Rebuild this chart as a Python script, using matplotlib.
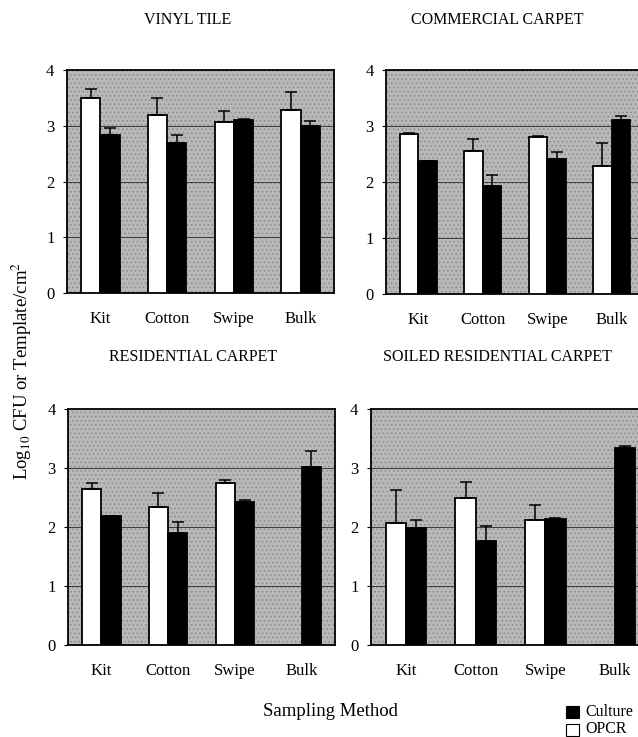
import numpy as np
import matplotlib
matplotlib.use('Agg')
import matplotlib.pyplot as plt

plt.rcParams['font.family'] = ['Liberation Serif', 'DejaVu Serif']
plt.rcParams['mathtext.fontset'] = 'stix'
plt.rcParams['hatch.linewidth'] = 0.6

methods = ['Kit', 'Cotton', 'Swipe', 'Bulk']
titles = ['VINYL TILE', 'COMMERCIAL CARPET', 'RESIDENTIAL CARPET', 'SOILED RESIDENTIAL CARPET']

# OPCR (white) and culture (black) means, with the upper error bar length
opcr = [
    [3.50, 3.20, 3.07, 3.28],
    [2.85, 2.56, 2.81, 2.28],
    [2.65, 2.34, 2.75, 0.0],
    [2.06, 2.50, 2.12, 0.0],
]
opcr_err = [
    [0.16, 0.29, 0.19, 0.32],
    [0.03, 0.21, 0.02, 0.42],
    [0.10, 0.24, 0.05, 0.0],
    [0.56, 0.27, 0.26, 0.0],
]
culture = [
    [2.84, 2.69, 3.10, 2.99],
    [2.37, 1.92, 2.41, 3.10],
    [2.18, 1.89, 2.42, 3.02],
    [1.98, 1.77, 2.14, 3.34],
]
culture_err = [
    [0.12, 0.14, 0.03, 0.10],
    [0.01, 0.20, 0.12, 0.08],
    [0.01, 0.19, 0.03, 0.26],
    [0.14, 0.24, 0.02, 0.03],
]

W, H = 638, 737
fig = plt.figure(figsize=(W / 100, H / 100), dpi=100)


def px_axes(l, t, r, b):
    return fig.add_axes([l / W, 1 - b / H, (r - l) / W, (b - t) / H])


# panel boxes in pixels (right panels run past the image edge)
boxes = [(67, 70, 334, 293), (386, 70, 644, 294), (68, 409, 335, 645), (371, 409, 650, 645)]
title_pos = [(188, 20), (497, 20), (193, 357), (497, 357)]

x = np.arange(len(methods)) + 0.5
bw = 0.29

for i, box in enumerate(boxes):
    ax = px_axes(*box)
    ax.set_facecolor('#b8b8b8')
    ax.set_xlim(0, 4)
    ax.set_ylim(0, 4)
    # stippled background
    ax.add_patch(plt.Rectangle((0, 0), 1, 1, transform=ax.transAxes, facecolor='none',
                               edgecolor='#8a8a8a', hatch='....', lw=0, zorder=0.5))
    for yv in [1, 2, 3]:
        ax.axhline(yv, color='#3c3c3c', lw=0.7, zorder=1)

    op = np.array(opcr[i])
    cu = np.array(culture[i])
    ax.bar(x - bw / 2, op, bw, color='white', edgecolor='black', lw=1.3, zorder=3)
    ax.bar(x + bw / 2, cu, bw, color='black', edgecolor='black', lw=1.3, zorder=3)

    for j in range(len(methods)):
        if op[j] > 0 and opcr_err[i][j] > 0:
            ax.errorbar(x[j] - bw / 2, op[j], yerr=[[0], [opcr_err[i][j]]], fmt='none',
                        ecolor='black', elinewidth=1.1, capsize=4, capthick=1.1, zorder=4)
        if cu[j] > 0 and culture_err[i][j] > 0:
            ax.errorbar(x[j] + bw / 2, cu[j], yerr=[[0], [culture_err[i][j]]], fmt='none',
                        ecolor='black', elinewidth=1.1, capsize=4, capthick=1.1, zorder=4)

    ax.set_yticks([0, 1, 2, 3, 4])
    ax.set_xticks(x)
    ax.set_xticklabels(methods, fontsize=12)
    ax.tick_params(axis='x', length=0, pad=13)
    ax.tick_params(axis='y', length=3, width=0.8, pad=6, labelsize=12)
    for s in ax.spines.values():
        s.set_linewidth(1.3)

    tx, ty = title_pos[i]
    fig.text(tx / W, 1 - ty / H, titles[i], ha='center', va='center', fontsize=11.5)

fig.text(22 / W, 1 - 371 / H, r'Log$_{10}$ CFU or Template/cm$^{2}$', rotation=90,
         ha='center', va='center', fontsize=13.5)
fig.text(330 / W, 1 - 712 / H, 'Sampling Method', ha='center', va='center', fontsize=13.5)

# legend
fig.patches.append(plt.Rectangle((566 / W, 1 - 718 / H), 13 / W, 12 / H, transform=fig.transFigure,
                                 facecolor='black', edgecolor='black', lw=0.8))
fig.patches.append(plt.Rectangle((566 / W, 1 - 736 / H), 13 / W, 12 / H, transform=fig.transFigure,
                                 facecolor='white', edgecolor='black', lw=0.8))
fig.text(585 / W, 1 - 712 / H, 'Culture', ha='left', va='center', fontsize=11.5)
fig.text(585 / W, 1 - 729 / H, 'OPCR', ha='left', va='center', fontsize=11.5)

fig.savefig('out.png', dpi=100)
